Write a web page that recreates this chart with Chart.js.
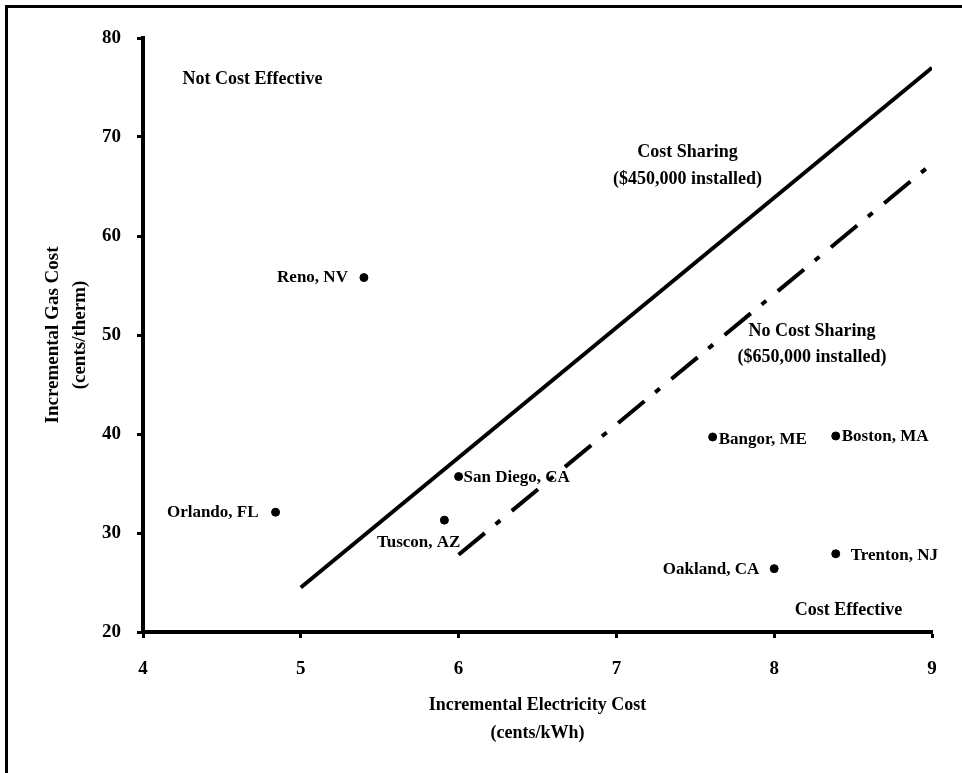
<!DOCTYPE html>
<html>
<head>
<meta charset="utf-8">
<script src="https://cdn.jsdelivr.net/npm/chart.js@4/dist/chart.umd.min.js"></script>
<style>
  html, body { margin: 0; padding: 0; background: #fff; }
  #wrap { position: relative; width: 962px; height: 773px; overflow: hidden; }
  #frame {
    position: absolute; left: 5px; top: 5px; width: 1000px; height: 766px;
    border-left: 3px solid #000; border-top: 3px solid #000;
  }
</style>
</head>
<body>
<div id="wrap">
  <div id="frame"></div>
  <canvas id="costChart" width="962" height="773"></canvas>
</div>
<script>
// ===============================
// 資料
// ===============================
const cities = ["Reno, NV", "Orlando, FL", "Tuscon, AZ", "San Diego, CA",
                "Bangor, ME", "Boston, MA", "Trenton, NJ", "Oakland, CA"];
const elecCost = [5.4, 4.84, 5.91, 6.0, 7.61, 8.39, 8.39, 8.0];   // cents/kWh
const gasCost  = [55.8, 32.1, 31.3, 35.7, 39.7, 39.8, 27.9, 26.4]; // cents/therm

// 成本分攤線（$450,000）與無分攤線（$650,000）
const sharingX = [5, 9];
const sharingY = [24.5, 77];
const noSharingX = [6, 9];
const noSharingY = [27.8, 67.3];

const xTicks = [4, 5, 6, 7, 8, 9];
const yTicks = [20, 30, 40, 50, 60, 70, 80];

// ===============================
// 文字標註（位置用資料座標）
// ===============================
const labelPlace = {
  "Reno, NV":      { dx: -16, dy: 0,  align: "right" },
  "Orlando, FL":   { dx: -17, dy: 0,  align: "right" },
  "Tuscon, AZ":    { dx: 16,  dy: 22, align: "right" },
  "San Diego, CA": { dx: 5,   dy: 1,  align: "left" },
  "Bangor, ME":    { dx: 6,   dy: 3,  align: "left" },
  "Boston, MA":    { dx: 6,   dy: 1,  align: "left" },
  "Trenton, NJ":   { dx: 15,  dy: 2,  align: "left" },
  "Oakland, CA":   { dx: -15, dy: 1,  align: "right" }
};

const regionNotes = [
  { text: "Not Cost Effective",   x: 4.25, y: 75.8, align: "left" },
  { text: "Cost Sharing",         x: 7.45, y: 68.4, align: "center" },
  { text: "($450,000 installed)", x: 7.45, y: 65.7, align: "center" },
  { text: "No Cost Sharing",      x: 8.24, y: 50.4, align: "center" },
  { text: "($650,000 installed)", x: 8.24, y: 47.7, align: "center" },
  { text: "Cost Effective",       x: 8.13, y: 22.2, align: "left" }
];

const SERIF = "'Liberation Serif', 'Times New Roman', serif";

const notesPlugin = {
  id: "notes",
  afterDatasetsDraw(chart) {
    const ctx = chart.ctx;
    const xs = chart.scales.x, ys = chart.scales.y;
    ctx.save();
    ctx.fillStyle = "#000";
    ctx.textBaseline = "middle";

    // 城市名稱
    ctx.font = "bold 17px " + SERIF;
    const pts = chart.getDatasetMeta(0).data;
    cities.forEach((name, i) => {
      const p = labelPlace[name];
      ctx.textAlign = p.align;
      ctx.fillText(name, pts[i].x + p.dx, pts[i].y + p.dy);
    });

    // 區域說明
    ctx.font = "bold 18px " + SERIF;
    regionNotes.forEach(n => {
      ctx.textAlign = n.align;
      ctx.fillText(n.text, xs.getPixelForValue(n.x), ys.getPixelForValue(n.y));
    });
    ctx.restore();
  }
};

// ===============================
// Chart.js 繪圖
// ===============================
const ctx = document.getElementById("costChart");

new Chart(ctx, {
  type: "scatter",
  data: {
    datasets: [
      {
        label: "Cities",
        data: cities.map((c, i) => ({ x: elecCost[i], y: gasCost[i] })),
        backgroundColor: "#000",
        borderColor: "#000",
        pointRadius: 4,
        pointHoverRadius: 4
      },
      {
        label: "Cost Sharing",
        type: "line",
        data: sharingX.map((x, i) => ({ x: x, y: sharingY[i] })),
        borderColor: "#000",
        borderWidth: 4,
        pointRadius: 0,
        fill: false
      },
      {
        label: "No Cost Sharing",
        type: "line",
        data: noSharingX.map((x, i) => ({ x: x, y: noSharingY[i] })),
        borderColor: "#000",
        borderWidth: 4,
        borderDash: [34, 14, 6, 15],
        pointRadius: 0,
        fill: false
      }
    ]
  },
  options: {
    responsive: false,
    animation: false,
    layout: { padding: { left: 10, right: 30, top: 38, bottom: 0 } },
    plugins: {
      legend: { display: false },
      tooltip: { enabled: false }
    },
    scales: {
      x: {
        type: "linear",
        min: 4, max: 9,
        afterBuildTicks: s => { s.ticks = xTicks.map(v => ({ value: v })); },
        afterFit: s => { s.height = 141; },
        border: { display: true, color: "#000", width: 4 },
        grid: { drawOnChartArea: false, drawTicks: true, tickLength: 6, tickWidth: 3, color: "#000" },
        ticks: { color: "#000", padding: 20, font: { family: SERIF, size: 19, weight: "bold" } },
        title: {
          display: true,
          text: ["Incremental Electricity Cost", "(cents/kWh)"],
          color: "#000",
          font: { family: SERIF, size: 18, weight: "bold", lineHeight: 1.55 },
          padding: { top: 0, bottom: 26 }
        }
      },
      y: {
        type: "linear",
        min: 20, max: 80,
        afterBuildTicks: s => { s.ticks = yTicks.map(v => ({ value: v })); },
        afterFit: s => { s.width = 133; },
        border: { display: true, color: "#000", width: 4 },
        grid: { drawOnChartArea: false, drawTicks: true, tickLength: 6, tickWidth: 3, color: "#000" },
        ticks: { color: "#000", padding: 16, font: { family: SERIF, size: 19, weight: "bold" } },
        title: {
          display: true,
          text: ["Incremental Gas Cost", "(cents/therm)"],
          color: "#000",
          font: { family: SERIF, size: 19, weight: "bold", lineHeight: 1.45 },
          padding: { top: 29, bottom: 0 }
        }
      }
    }
  },
  plugins: [notesPlugin]
});
</script>
</body>
</html>
